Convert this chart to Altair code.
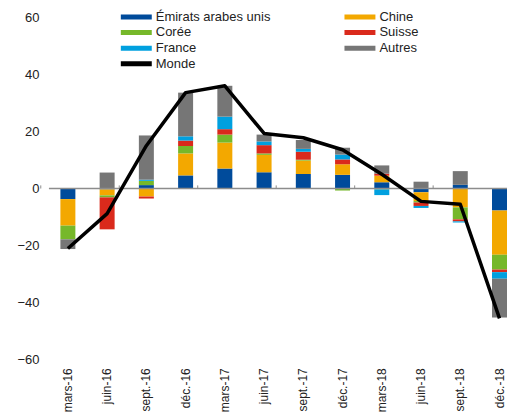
import altair as alt
import pandas as pd

periods = ["mars-16", "juin-16", "sept.-16", "déc.-16", "mars-17", "juin-17",
           "sept.-17", "déc.-17", "mars-18", "juin-18", "sept.-18", "déc.-18"]
series = ["Émirats arabes unis", "Chine", "Corée", "Suisse", "France", "Autres"]

emirats = [-3.7, -0.3, 1.2, 4.6, 7.0, 5.7, 5.1, 4.8, 2.2, -1.3, 1.3, -7.7]
chine = [-9.3, -2.1, -2.8, 7.7, 9.1, 6.1, 4.7, 3.7, 2.3, -3.1, -6.6, -15.5]
coree = [-4.8, -0.7, 1.5, 2.6, 2.8, 0.5, 0.3, -0.7, -0.3, -0.5, -4.2, -5.2]
suisse = [0.0, -11.2, -0.7, 1.9, 1.9, 2.9, 2.8, 1.7, 0.7, -1.2, -0.7, -0.9]
france = [0.0, 0.0, 0.4, 1.5, 4.4, 1.3, 1.0, 1.7, -2.0, -0.7, -0.4, -2.3]
autres = [-3.4, 5.6, 15.5, 15.3, 10.8, 2.4, 3.1, 2.4, 2.9, 2.4, 4.8, -13.6]
monde = [-21.0, -8.8, 15.0, 33.6, 36.0, 19.3, 17.8, 13.6, 5.0, -4.5, -5.5, -45.5]

colors = {"Émirats arabes unis": "#004B9B", "Chine": "#F3A800", "Corée": "#76B82A",
          "Suisse": "#DA2A1C", "France": "#00A0DF", "Autres": "#767676", "Monde": "#000000"}
# legend is filled column by column
legend_order = ["Émirats arabes unis", "Corée", "France", "Monde", "Chine", "Suisse", "Autres"]
y_ticks = [-60, -40, -20, 0, 20, 40, 60]
tick_periods = ["mars-16", "sept.-16", "mars-17", "sept.-17", "mars-18", "sept.-18"]

values = [emirats, chine, coree, suisse, france, autres]
rows = []
for si, (name, vals) in enumerate(zip(series, values)):
    for p, v in zip(periods, vals):
        rows.append({"period": p, "series": name, "value": v, "order": si})
df = pd.DataFrame(rows)
df_monde = pd.DataFrame({"period": periods, "value": monde})
df_zero = pd.DataFrame({"v": [0]})
df_ticks = pd.DataFrame({"period": tick_periods})

FONT = "Liberation Sans"
step = 39.3
p_in = 0.618
p_out = 0.146
W = step * (12 - p_in + 2 * p_out)
H = 343

xscale = alt.Scale(domain=periods, paddingInner=p_in, paddingOuter=p_out, align=1)
yscale = alt.Scale(domain=[-60, 60], nice=False)

xaxis = alt.Axis(title=None, labelAngle=-90, domain=False, ticks=False, labelPadding=8,
                 labelFontSize=12, labelFont=FONT, labelColor="#222222")
yaxis = alt.Axis(title=None, values=y_ticks, grid=False, domain=False, ticks=False,
                 labelPadding=10, minExtent=36, labelFontSize=13, labelFont=FONT,
                 labelColor="#222222")

bars = alt.Chart(df).mark_bar().encode(
    x=alt.X("period:N", sort=periods, scale=xscale, axis=xaxis),
    y=alt.Y("value:Q", stack="zero", scale=yscale, axis=yaxis),
    color=alt.Color("series:N",
                    scale=alt.Scale(domain=legend_order, range=[colors[s] for s in legend_order]),
                    legend=alt.Legend(title=None, orient="none", legendX=71, legendY=-7,
                                      columns=2, columnPadding=73, rowPadding=1.7,
                                      clipHeight=13, padding=0,
                                      symbolType="M-1,-0.16H1V0.16H-1Z", symbolSize=961,
                                      symbolOpacity=1, labelOffset=3,
                                      labelFont=FONT, labelFontSize=13, labelColor="#222222")),
    order=alt.Order("order:Q"),
)

zero = alt.Chart(df_zero).mark_rule(color="#8c8c8c", strokeWidth=1.5).encode(y=alt.Y("v:Q", scale=yscale))

ticks = alt.Chart(df_ticks).mark_rule(color="#8c8c8c", strokeWidth=1).encode(
    x=alt.X("period:N", sort=periods, scale=xscale),
    xOffset=alt.value(-step / 2),
    y=alt.datum(0),
    y2=alt.datum(1.1),
)

line = alt.Chart(df_monde).mark_line(color="#000000", strokeWidth=3.5, strokeJoin="round").encode(
    x=alt.X("period:N", sort=periods, scale=xscale),
    y=alt.Y("value:Q", scale=yscale),
)

chart = alt.layer(bars, zero, ticks, line).properties(
    width=W, height=H,
    padding={"left": 5, "top": 2, "right": 0, "bottom": 0},
).configure_view(stroke=None)

chart.save("out.html", embed_options={"renderer": "svg", "actions": False})
